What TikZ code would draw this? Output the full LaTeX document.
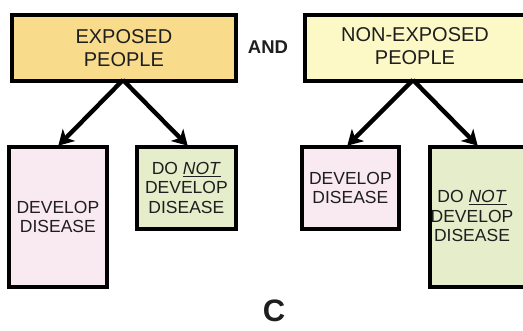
\documentclass[tikz,border=0pt]{standalone}
\usepackage{fontspec}
\setmainfont{Liberation Sans}
\usetikzlibrary{arrows.meta}
\definecolor{topA}{HTML}{F8DC8C}
\definecolor{topB}{HTML}{FDF9C6}
\definecolor{pinkbox}{HTML}{F9E9F1}
\definecolor{greenbox}{HTML}{E5EDCB}
\definecolor{txt}{HTML}{1E1E1E}
\tikzset{
  box/.style={draw=black, line width=3.8pt, anchor=north west, inner sep=0pt, text=txt, align=center},
  toptext/.style={text=txt, align=center, font=\fontsize{20}{22.5}\selectfont},
  bottext/.style={text=txt, align=center, font=\fontsize{17.5}{19.5}\selectfont},
  conn/.style={line width=4.4pt, -{Stealth[length=15pt,width=17pt,inset=4pt]}, shorten >=-1pt}
}
\begin{document}
\begin{tikzpicture}[x=1pt,y=-1pt]
\useasboundingbox (0,0) rectangle (523,331);
\begin{scope}
\clip (0,0) rectangle (523,331);
% top boxes
\node[box, fill=topA, minimum width=224pt, minimum height=66pt] (exp) at (10,13) {};
\node[toptext] at (exp.center) {EXPOSED\\PEOPLE};
\node[box, fill=topB, minimum width=226pt, minimum height=66pt] (nonexp) at (303,13) {};
\node[toptext] at (415,46) {NON-EXPOSED\\PEOPLE};
\node[text=txt, font=\fontsize{18.5}{20}\selectfont\bfseries] (and) at (268,47) {AND};
% bottom boxes
\node[box, fill=pinkbox, minimum width=98pt, minimum height=140pt] (b1) at (7,145) {};
\node[bottext] at (b1.center) {DEVELOP\\DISEASE};
\node[box, fill=greenbox, minimum width=99pt, minimum height=82pt] (b2) at (135,145) {};
\node[bottext] at (b2.center) {DO \underline{\textit{NOT}}\\DEVELOP\\DISEASE};
\node[box, fill=pinkbox, minimum width=97pt, minimum height=82pt] (b3) at (300,145) {};
\node[bottext] at (b3.center) {DEVELOP\\DISEASE};
\node[box, fill=greenbox, minimum width=100pt, minimum height=140pt] (b4) at (428,145) {};
\node[bottext] at (472,216) {DO \underline{\textit{NOT}}\\DEVELOP\\DISEASE};
% connectors
\coordinate (a1) at (123,80);
\coordinate (a2) at (413,80);
\coordinate (t1) at (59,145);
\coordinate (t2) at (187,145);
\coordinate (t3) at (348,145);
\coordinate (t4) at (477,145);
\draw[conn] (a1) -- (t1);
\draw[conn] (a1) -- (t2);
\draw[conn] (a2) -- (t3);
\draw[conn] (a2) -- (t4);
\node[text=txt, font=\fontsize{31}{34}\selectfont\bfseries] (c) at (274,311) {C};
\end{scope}
\end{tikzpicture}
\end{document}
